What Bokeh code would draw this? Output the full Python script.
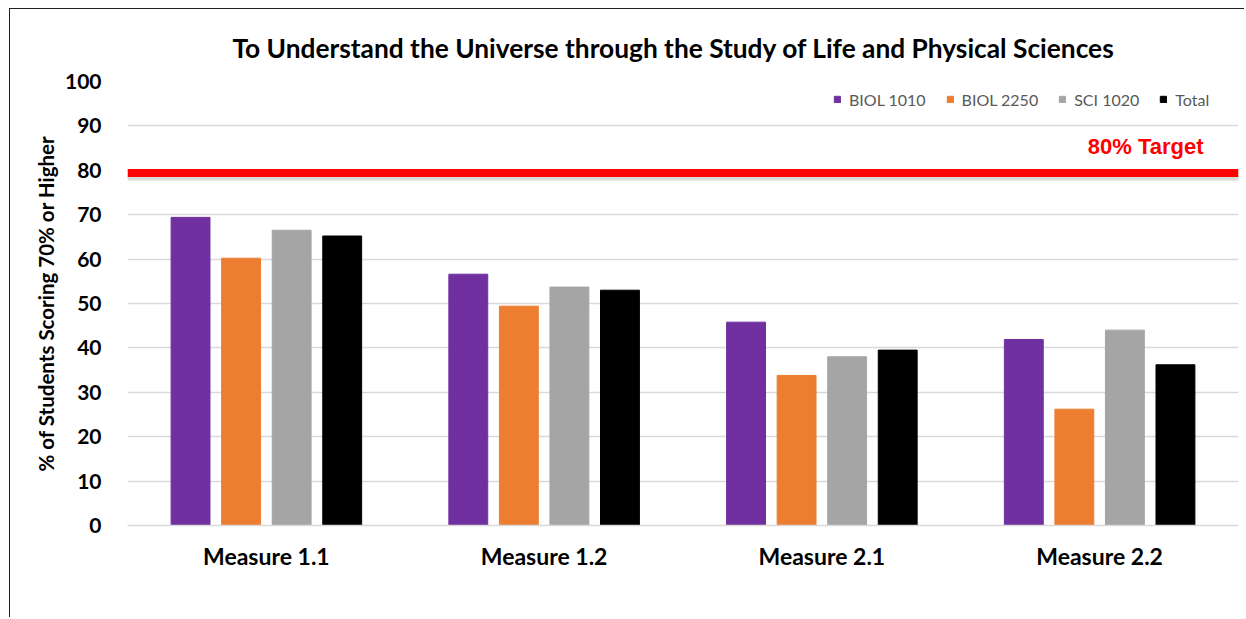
from bokeh.plotting import figure
from bokeh.models import Span, Label, Legend, LegendItem, FactorRange, Range1d, Title
from bokeh.embed import file_html
from bokeh.resources import INLINE

measures = ["Measure 1.1", "Measure 1.2", "Measure 2.1", "Measure 2.2"]
series = ["BIOL 1010", "BIOL 2250", "SCI 1020", "Total"]
biol_1010 = [69.4, 56.6, 45.8, 41.9]
biol_2250 = [60.2, 49.4, 33.8, 26.2]
sci_1020 = [66.5, 53.7, 38.0, 44.0]
total = [65.2, 53.0, 39.5, 36.2]
colors = ["#7030A0", "#ED7D31", "#A5A5A5", "#000000"]
target = 79.4
y_ticks = [0, 10, 20, 30, 40, 50, 60, 70, 80, 90, 100]

FONT = "Lato"

p = figure(
    width=1235, height=609,
    x_range=FactorRange(*measures, range_padding=0),
    y_range=Range1d(0, 100),
    output_backend="svg", toolbar_location=None,
    min_border_left=117, min_border_right=7, min_border_top=72, min_border_bottom=93,
    margin=(8, 0, 0, 9),
    styles={"border-left": "1.5px solid #222", "border-top": "1.5px solid #222"},
)
p.outline_line_color = None
p.background_fill_color = "white"
p.border_fill_color = "white"

p.title = Title(text="To Understand the Universe through the Study of Life and Physical Sciences",
                align="left", text_font=FONT, text_font_size="26.3px",
                text_font_style="bold", text_color="#000000", standoff=36, offset=105)

offsets = [-0.273, -0.091, 0.091, 0.273]
bar_w = 0.14
renderers = []
for vals, off, col in zip([biol_1010, biol_2250, sci_1020, total], offsets, colors):
    xnum = [i + 0.5 + off for i in range(len(measures))]
    r = p.vbar(x=xnum, top=vals, width=bar_w, bottom=0, fill_color=col, line_color=col)
    renderers.append(r)

# target line with shadow
shadow = Span(location=target - 0.9, dimension="width", line_color="#000000",
              line_alpha=0.15, line_width=7)
p.add_layout(shadow)
p.add_layout(Span(location=target, dimension="width", line_color="#FF0000", line_width=8))

p.add_layout(Label(x=3.874, y=85.4, text="80% Target", text_align="right",
                   text_baseline="middle", text_color="#FF0000",
                   text_font="Liberation Sans", text_font_size="22px",
                   text_font_style="bold"))

legend = Legend(items=[LegendItem(label=s, renderers=[r]) for s, r in zip(series, renderers)],
                orientation="horizontal", location=(706, 416),
                glyph_width=8, glyph_height=8, label_standoff=8, spacing=20,
                padding=0, margin=0, border_line_color=None, background_fill_alpha=0,
                label_text_font=FONT, label_text_font_size="16px",
                label_text_color="#595959", label_height=20)
p.add_layout(legend)

# axes
p.xaxis.major_label_text_font = FONT
p.xaxis.major_label_text_font_size = "23px"
p.xaxis.major_label_text_font_style = "bold"
p.xaxis.major_label_text_color = "#000000"
p.xaxis.major_tick_line_color = None
p.xaxis.major_tick_out = 0
p.xaxis.minor_tick_line_color = None
p.xaxis.axis_line_color = "#D9D9D9"
p.xaxis.axis_line_width = 1.5
p.xaxis.major_label_standoff = 16

p.yaxis.ticker = y_ticks
p.yaxis.axis_label = "% of Students Scoring 70% or Higher"
p.yaxis.axis_label_text_font = FONT
p.yaxis.axis_label_text_font_size = "20.5px"
p.yaxis.axis_label_text_font_style = "bold"
p.yaxis.axis_label_text_color = "#000000"
p.yaxis.axis_label_standoff = 4
p.yaxis.major_label_text_font = FONT
p.yaxis.major_label_text_font_size = "21px"
p.yaxis.major_label_text_font_style = "bold"
p.yaxis.major_label_text_color = "#000000"
p.yaxis.major_tick_line_color = None
p.yaxis.major_tick_out = 0
p.yaxis.minor_tick_line_color = None
p.yaxis.axis_line_color = None
p.yaxis.major_label_standoff = 26

p.xgrid.grid_line_color = None
p.ygrid.grid_line_color = "#D9D9D9"
p.ygrid.grid_line_width = 1.5

open("out.html", "w").write(file_html(p, INLINE))
